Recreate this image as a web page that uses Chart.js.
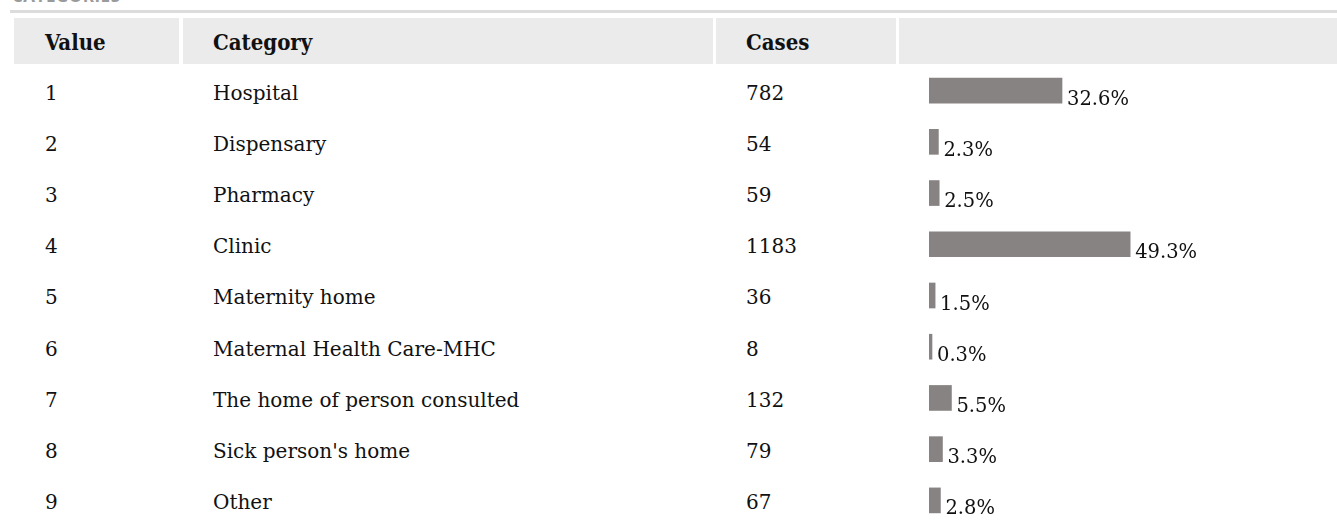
<!DOCTYPE html>
<html>
<head>
<meta charset="utf-8">
<script src="https://cdn.jsdelivr.net/npm/chart.js@4/dist/chart.umd.min.js"></script>
<style>
  html, body { margin: 0; padding: 0; background: #fff; width: 1337px; height: 523px; overflow: hidden; }
  body { position: relative; font-family: "DejaVu Serif", serif; color: #111; }
  #title { position: absolute; left: 12px; top: -16px; font: bold 17px "Open Sans", sans-serif; color: #9a9a9a; letter-spacing: 0.5px; }
  #rule { position: absolute; left: 10px; right: 0; top: 10px; height: 3px; background: #dcdcdc; }
  .hcell { position: absolute; top: 18px; height: 46px; background: #ebebeb; box-sizing: border-box; padding-left: 31px; padding-top: 1px;
           font: bold 22px "DejaVu Serif Condensed", "DejaVu Serif", serif; line-height: 46px; color: #111; }
  .row { position: absolute; left: 0; width: 1337px; height: 51.2px; font-size: 20px; }
  .row span { position: absolute; top: 14.5px; line-height: 23px; white-space: nowrap; }
  #chartWrap { position: absolute; left: 929px; top: 65px; width: 408px; height: 461px; }
</style>
</head>
<body>
<div id="title">CATEGORIES</div>
<div id="rule"></div>
<div class="hcell" style="left:14px;width:165px;">Value</div>
<div class="hcell" style="left:183px;width:530px;padding-left:30px;">Category</div>
<div class="hcell" style="left:716px;width:180px;padding-left:30px;">Cases</div>
<div class="hcell" style="left:899px;width:450px;"></div>
<div id="rows"></div>
<div id="chartWrap"><canvas id="c"></canvas></div>
<script>
const codes = ["1","2","3","4","5","6","7","8","9"];
const categories = ["Hospital","Dispensary","Pharmacy","Clinic","Maternity home","Maternal Health Care-MHC","The home of person consulted","Sick person's home","Other"];
const cases = [782, 54, 59, 1183, 36, 8, 132, 79, 67];
const percents = [32.6, 2.3, 2.5, 49.3, 1.5, 0.3, 5.5, 3.3, 2.8];

const rowsEl = document.getElementById('rows');
codes.forEach((code, i) => {
  const r = document.createElement('div');
  r.className = 'row';
  r.style.top = (67 + 51.2 * i) + 'px';
  const a = document.createElement('span'); a.style.left = '45px'; a.textContent = code;
  const b = document.createElement('span'); b.style.left = '213px'; b.textContent = categories[i];
  const c = document.createElement('span'); c.style.left = '746px'; c.textContent = String(cases[i]);
  r.appendChild(a); r.appendChild(b); r.appendChild(c);
  rowsEl.appendChild(r);
});

const pctLabels = {
  id: 'pctLabels',
  afterDatasetsDraw(chart) {
    const ctx = chart.ctx;
    const meta = chart.getDatasetMeta(0);
    ctx.save();
    ctx.font = '19.5px "DejaVu Serif", serif';
    ctx.fillStyle = '#111';
    ctx.textAlign = 'left';
    ctx.textBaseline = 'alphabetic';
    meta.data.forEach((bar, i) => {
      const bottom = bar.y + bar.height / 2;
      ctx.fillText(percents[i].toFixed(1) + '%', bar.x + 5, bottom + 1.5);
    });
    ctx.restore();
  }
};

new Chart(document.getElementById('c'), {
  type: 'bar',
  data: {
    labels: categories,
    datasets: [{
      data: percents,
      backgroundColor: '#878382',
      borderWidth: 0,
      barThickness: 25,
      minBarLength: 3
    }]
  },
  options: {
    indexAxis: 'y',
    responsive: true,
    maintainAspectRatio: false,
    animation: false,
    layout: { padding: 0 },
    plugins: { legend: { display: false }, tooltip: { enabled: false } },
    scales: {
      x: { display: false, min: 0, max: 100 },
      y: { display: false }
    }
  },
  plugins: [pctLabels]
});
</script>
</body>
</html>
